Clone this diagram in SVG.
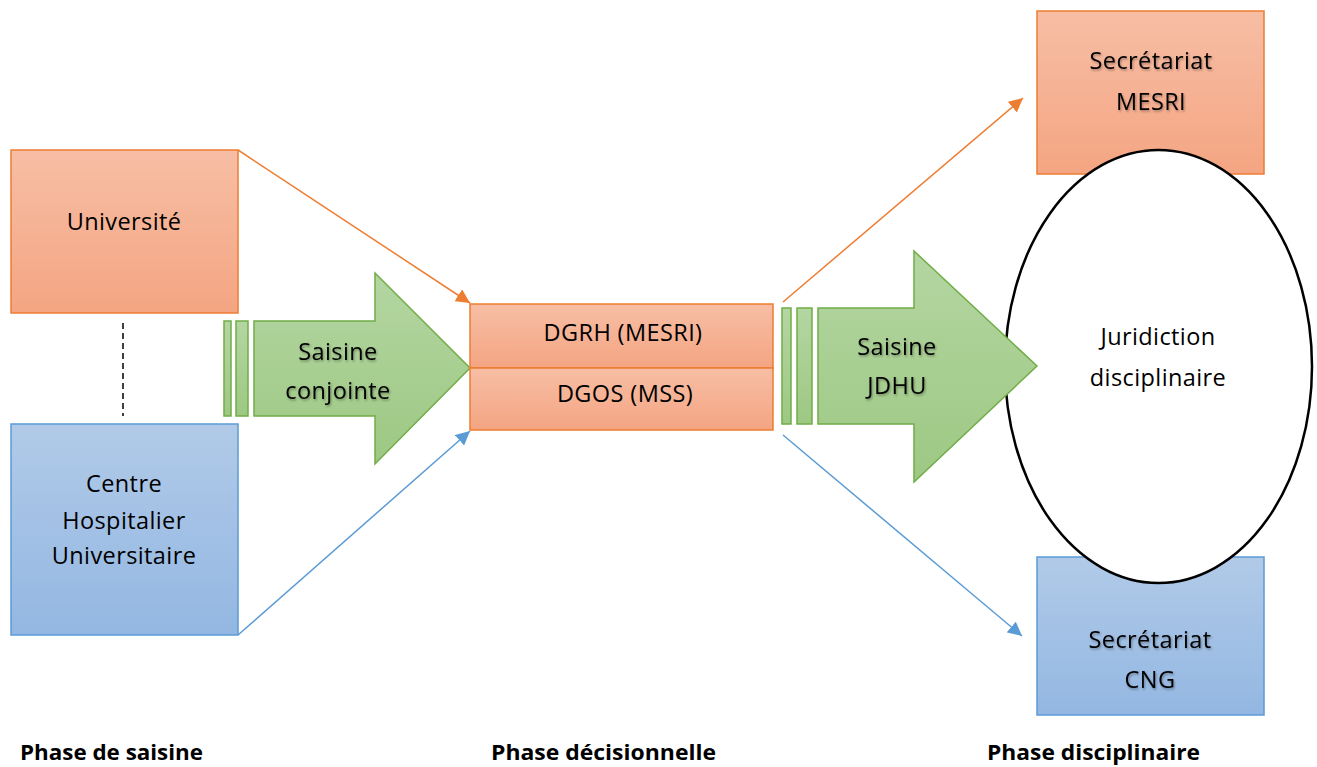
<svg xmlns="http://www.w3.org/2000/svg" width="1317" height="767" viewBox="0 0 1317 767">
<defs>
<linearGradient id="gOr" x1="0" y1="0" x2="0" y2="1"><stop offset="0" stop-color="#F7BEA5"/><stop offset="1" stop-color="#F4A582"/></linearGradient>
<linearGradient id="gBl" x1="0" y1="0" x2="0" y2="1"><stop offset="0" stop-color="#B1CAE8"/><stop offset="1" stop-color="#93B7E2"/></linearGradient>
<linearGradient id="gGr" x1="0" y1="0" x2="0" y2="1"><stop offset="0" stop-color="#B4D6A2"/><stop offset="1" stop-color="#9DC883"/></linearGradient>
<filter id="sh" x="-10%" y="-20%" width="120%" height="140%"><feDropShadow dx="1" dy="1.5" stdDeviation="1" flood-color="#000" flood-opacity="0.35"/></filter>
<marker id="aOr" viewBox="0 0 10 10" refX="10" refY="5" markerWidth="14" markerHeight="14" markerUnits="userSpaceOnUse" orient="auto"><path d="M0,0 L10,5 L0,10 z" fill="#ED7D31"/></marker>
<marker id="aBl" viewBox="0 0 10 10" refX="10" refY="5" markerWidth="14" markerHeight="14" markerUnits="userSpaceOnUse" orient="auto"><path d="M0,0 L10,5 L0,10 z" fill="#5B9BD5"/></marker>
</defs>
<style>
.or{fill:url(#gOr);stroke:#ED7D31;stroke-width:1.5}
.bl{fill:url(#gBl);stroke:#5B9BD5;stroke-width:1.5}
.gr{fill:url(#gGr);stroke:#70AD47;stroke-width:1.5}
.t{font-family:"Open Sans","Noto Sans","Liberation Sans",sans-serif;font-size:23.5px;letter-spacing:0.4px;fill:#000;text-anchor:middle}
.s{filter:url(#sh)}
.ph{font-family:"Open Sans","Liberation Sans",sans-serif;font-size:21px;font-weight:bold;fill:#000}
.cOr{stroke:#ED7D31;stroke-width:1.5;fill:none}
.cBl{stroke:#5B9BD5;stroke-width:1.5;fill:none}
</style>
<rect width="1317" height="767" fill="#fff"/>

<g id="connectors">
<line class="cOr" x1="238" y1="150" x2="470" y2="303" marker-end="url(#aOr)"/>
<line class="cBl" x1="238" y1="635" x2="470" y2="431" marker-end="url(#aBl)"/>
<line class="cOr" x1="783" y1="302" x2="1023" y2="98" marker-end="url(#aOr)"/>
<line class="cBl" x1="783" y1="435" x2="1022" y2="636" marker-end="url(#aBl)"/>
<line x1="123" y1="323" x2="123" y2="416" stroke="#000" stroke-width="1.5" stroke-dasharray="6,4"/>
</g>

<g id="universite">
<rect class="or" x="11" y="150" width="227" height="163"/>
<text class="t" x="124" y="230">Université</text>
</g>

<g id="chu">
<rect class="bl" x="11" y="424" width="227" height="211"/>
<text class="t" x="124" y="492">Centre</text>
<text class="t" x="124" y="529">Hospitalier</text>
<text class="t" x="124" y="564">Universitaire</text>
</g>

<g id="saisine-conjointe">
<rect class="gr" x="224" y="321" width="7" height="95"/>
<rect class="gr" x="236" y="321" width="12" height="95"/>
<path class="gr" d="M254,321 H375 V273 L470,368 L375,464 V416 H254 Z"/>
<text class="t s" x="338" y="360">Saisine</text>
<text class="t s" x="338" y="399">conjointe</text>
</g>

<g id="dgrh">
<rect class="or" x="470" y="304" width="303" height="64"/>
<text class="t" x="623" y="341">DGRH (MESRI)</text>
</g>
<g id="dgos">
<rect class="or" x="470" y="368" width="303" height="62"/>
<text class="t" x="625" y="402">DGOS (MSS)</text>
</g>

<g id="secretariat-mesri">
<rect class="or" x="1037" y="11" width="227" height="163"/>
<text class="t s" x="1151" y="69">Secrétariat</text>
<text class="t s" x="1151" y="110">MESRI</text>
</g>

<g id="secretariat-cng">
<rect class="bl" x="1037" y="557" width="227" height="158"/>
<text class="t s" x="1150" y="648">Secrétariat</text>
<text class="t s" x="1150" y="688">CNG</text>
</g>

<g id="juridiction">
<ellipse cx="1158.5" cy="366.5" rx="153.5" ry="216.5" fill="#fff" stroke="#000" stroke-width="2.5"/>
<text class="t" x="1158" y="345">Juridiction</text>
<text class="t" x="1158" y="386">disciplinaire</text>
</g>

<g id="saisine-jdhu">
<rect class="gr" x="782" y="308" width="9" height="116"/>
<rect class="gr" x="797" y="308" width="15" height="116"/>
<path class="gr" d="M818,308 H914 V251 L1037,366 L914,482 V424 H818 Z"/>
<text class="t s" x="897" y="355">Saisine</text>
<text class="t s" x="897" y="394">JDHU</text>
</g>

<g id="phases">
<text class="ph" x="20" y="760" textLength="183" lengthAdjust="spacingAndGlyphs">Phase de saisine</text>
<text class="ph" x="491" y="760" textLength="225" lengthAdjust="spacingAndGlyphs">Phase décisionnelle</text>
<text class="ph" x="987" y="760" textLength="213" lengthAdjust="spacingAndGlyphs">Phase disciplinaire</text>
</g>
</svg>
